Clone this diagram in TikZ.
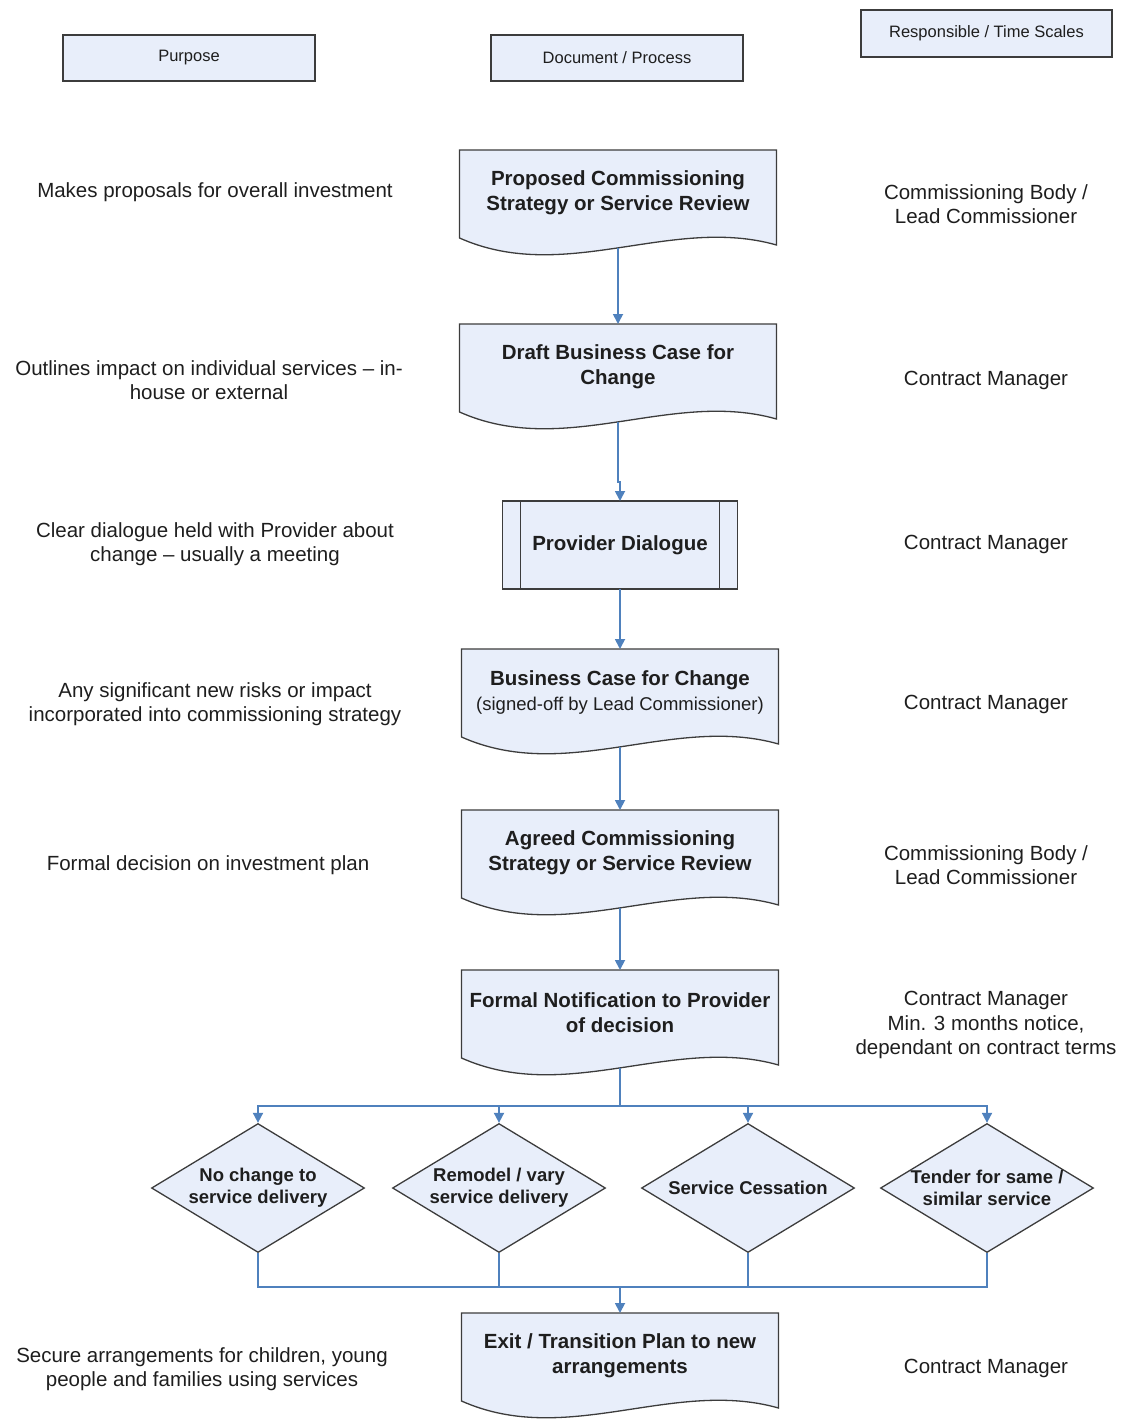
\documentclass[tikz,border=0pt]{standalone}
\usepackage{fontspec}
\setmainfont{Liberation Sans}
\usepackage{tikz}
\usetikzlibrary{arrows.meta,positioning,calc,backgrounds,shapes.geometric}
\definecolor{paleblue}{RGB}{232,238,250}
\definecolor{edge}{RGB}{60,60,60}
\definecolor{steel}{RGB}{79,129,189}
\definecolor{ink}{RGB}{30,30,30}
\tikzset{
  head/.style={draw=edge,line width=1.6pt,fill=paleblue,minimum width=252,minimum height=46,inner sep=0pt,font=\fontsize{16.5}{19}\selectfont,text=ink},
  doc/.style={anchor=north,minimum width=317,minimum height=86,outer sep=0pt,inner sep=0pt,align=center,font=\bfseries\fontsize{20.5}{25}\selectfont,text=ink},
  docline/.style={draw=edge,line width=1.3pt,fill=paleblue},
  proc/.style={draw=edge,line width=1.3pt,fill=paleblue,minimum width=235,minimum height=88,inner sep=0pt,outer sep=0pt,font=\bfseries\fontsize{20.5}{25}\selectfont,text=ink},
  dia/.style={diamond,draw=edge,line width=1.3pt,fill=paleblue,minimum width=213,minimum height=129,inner sep=0pt},
  dtext/.style={align=center,font=\bfseries\fontsize{18.5}{22}\selectfont,text=ink},
  note/.style={align=center,font=\fontsize{20.5}{24.5}\selectfont,text=ink},
  arr/.style={-{Triangle[length=10pt,width=10pt]},draw=steel,line width=1.8pt},
  wire/.style={draw=steel,line width=1.8pt},
}
\begin{document}
\begin{tikzpicture}[x=1pt,y=-1pt]
  \useasboundingbox (0,0) rectangle (1120,1421);
  % column headings
  \node[head] (hp) at (189,58) {Purpose};
  \node[head] (hd) at (617,58) {Document / Process};
  \node[head,minimum width=251,minimum height=47] (hr) at (986.5,33.5) {Responsible / Time Scales};
  % process column
  \node[doc] (p) at (618,150) {Proposed Commissioning\\Strategy or Service Review};
  \node[doc] (d) at (618,324) {Draft Business Case for\\Change};
  \node[proc] (v) at (620,545) {Provider Dialogue};
  \node[doc] (b) at (620,649) {Business Case for Change\\{\mdseries\fontsize{18.5}{24}\selectfont(signed-off by Lead Commissioner)}};
  \node[doc] (a) at (620,810) {Agreed Commissioning\\Strategy or Service Review};
  \node[doc] (f) at (620,970) {Formal Notification to Provider\\of decision};
  \node[dia,label={[dtext]center:No change to\\service delivery}] (o1) at (258,1188) {};
  \node[dia,label={[dtext]center:Remodel / vary\\service delivery}] (o2) at (499,1188) {};
  \node[dia,label={[dtext]center:Service Cessation}] (o3) at (748,1188) {};
  \node[dia,label={[dtext]center:Tender for same /\\similar service}] (o4) at (987,1188) {};
  \node[doc] (e) at (620,1313) {Exit / Transition Plan to new\\arrangements};
  % purpose column
  \node[note] (pu1) at (215,192) {Makes proposals for overall investment};
  \node[note] (pu2) at (209,380) {Outlines impact on individual services -- in-\\house or external};
  \node[note] (pu3) at (215,544) {Clear dialogue held with Provider about\\change -- usually a meeting};
  \node[note] (pu4) at (215,704) {Any significant new risks or impact\\incorporated into commissioning strategy};
  \node[note] (pu5) at (208,865) {Formal decision on investment plan};
  \node[note] (pu6) at (202,1369) {Secure arrangements for children, young\\people and families using services};
  % responsible column
  \node[note] (re1) at (986,204) {Commissioning Body /\\Lead Commissioner};
  \node[note] (re2) at (986,380) {Contract Manager};
  \node[note] (re3) at (986,544) {Contract Manager};
  \node[note] (re4) at (986,704) {Contract Manager};
  \node[note] (re5) at (986,865) {Commissioning Body /\\Lead Commissioner};
  \node[note] (re6) at (986,1025) {Contract Manager\\Min. 3 months notice,\\dependant on contract terms};
  \node[note] (re7) at (986,1368) {Contract Manager};
  % document outlines with wavy foot
  \begin{scope}[on background layer]
    \foreach \n in {p,d,b,a,f,e}{
      \draw[docline] (\n.north west) -- (\n.north east) -- ($(\n.north east)+(0,95)$)
        .. controls ($(\n.north west)!0.667!(\n.north east)+(0,65)$) and ($(\n.north west)!0.333!(\n.north east)+(0,135)$)
        .. ($(\n.north west)+(0,88)$) -- cycle;
    }
  \end{scope}
  \draw[docline,fill=none] ($(v.north west)+(18,0)$) -- ($(v.south west)+(18,0)$);
  \draw[docline,fill=none] ($(v.north east)+(-18,0)$) -- ($(v.south east)+(-18,0)$);
  % connectors
  \coordinate (bus) at (620,1106);
  \coordinate (join) at (620,1287);
  \draw[arr] ($(p.south)+(0,12)$) -- (d.north);
  \draw[arr] ($(d.south)+(0,12)$) -- ++(0,60) -| (v.north);
  \draw[arr] (v.south) -- (b.north);
  \draw[arr] ($(b.south)+(0,12)$) -- (a.north);
  \draw[arr] ($(a.south)+(0,12)$) -- (f.north);
  \draw[wire] ($(f.south)+(0,12)$) -- (bus);
  \foreach \k in {1,...,4}{
    \draw[arr] (bus) -| (o\k.north);
    \draw[wire] (o\k.south) |- (join);
  }
  \draw[arr] (join) -- (e.north);
\end{tikzpicture}
\end{document}
